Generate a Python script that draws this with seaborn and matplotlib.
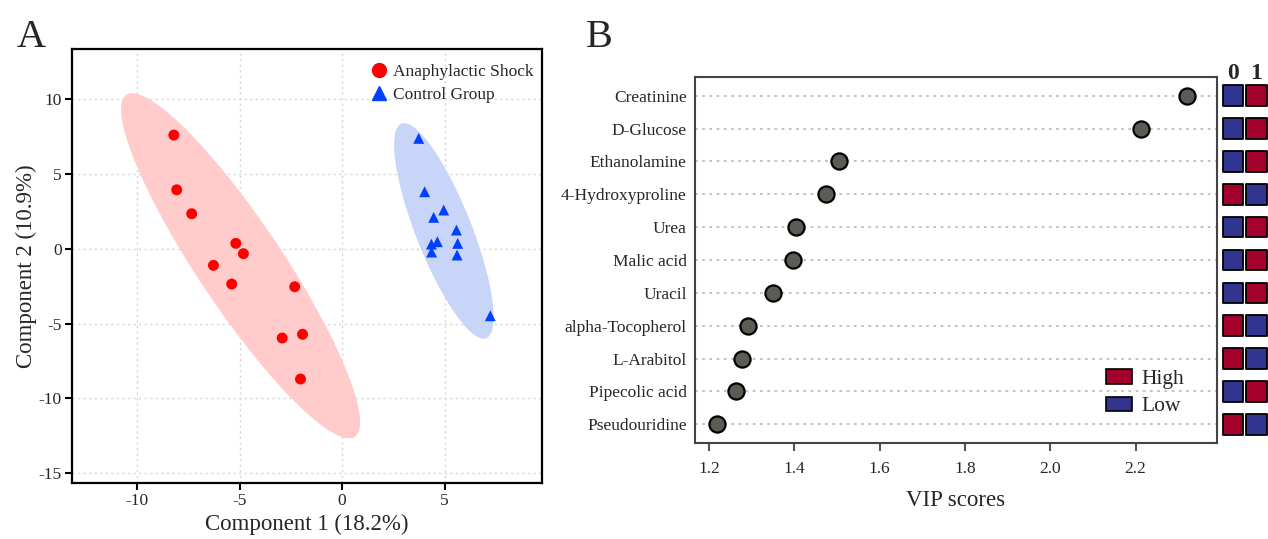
import numpy as np
import pandas as pd
import matplotlib
matplotlib.use("Agg")
import matplotlib.pyplot as plt
import seaborn as sns
from matplotlib.patches import Ellipse, Patch
from matplotlib.lines import Line2D

# ---------------- Panel A data (PLS-DA scores) ----------------
group_names = ["Anaphylactic Shock", "Control Group"]
shock_x = [-8.20, -8.06, -7.33, -5.18, -4.81, -6.27, -5.38, -2.31, -2.92, -1.93, -2.03]
shock_y = [7.60, 3.94, 2.34, 0.36, -0.33, -1.11, -2.36, -2.54, -5.97, -5.72, -8.71]
ctrl_x = [3.73, 4.02, 4.95, 4.46, 5.57, 4.64, 4.35, 5.63, 4.36, 5.60, 7.22]
ctrl_y = [7.38, 3.81, 2.59, 2.10, 1.25, 0.47, 0.31, 0.36, -0.22, -0.42, -4.48]
x_ticks_A = [-10, -5, 0, 5]
y_ticks_A = [-15, -10, -5, 0, 5, 10]
x_label_A = "Component 1 (18.2%)"
y_label_A = "Component 2 (10.9%)"

# ---------------- Panel B data (VIP scores) ----------------
metabolites = ["Creatinine", "D-Glucose", "Ethanolamine", "4-Hydroxyproline", "Urea",
               "Malic acid", "Uracil", "alpha-Tocopherol", "L-Arabitol",
               "Pipecolic acid", "Pseudouridine"]
vip_scores = [2.320, 2.212, 1.504, 1.473, 1.403, 1.396, 1.350, 1.292, 1.277, 1.262, 1.218]
level_col0 = ["Low", "Low", "Low", "High", "Low", "Low", "Low", "High", "High", "Low", "High"]
level_col1 = ["High", "High", "High", "Low", "High", "High", "High", "Low", "Low", "High", "Low"]
heat_cols = ["0", "1"]
x_ticks_B = [1.2, 1.4, 1.6, 1.8, 2.0, 2.2]
x_label_B = "VIP scores"
level_names = ["High", "Low"]

# ---------------- style ----------------
sns.set_style("white")
plt.rcParams["font.family"] = ["Liberation Serif", "DejaVu Serif"]
plt.rcParams["axes.unicode_minus"] = False

shock_color = "#FF0000"
ctrl_color = "#0040FF"
shock_fill = "#FFCBCB"
ctrl_fill = "#C9D5F8"
high_color = "#A3002B"
low_color = "#32358F"

fig = plt.figure(figsize=(12.68, 5.39), dpi=100)

# ================= Panel A =================
axA = fig.add_axes([0.0565, 0.1039, 0.4273 - 0.0565, 0.909 - 0.1039])

dfA = pd.DataFrame({
    "x": shock_x + ctrl_x,
    "y": shock_y + ctrl_y,
    "group": [group_names[0]] * len(shock_x) + [group_names[1]] * len(ctrl_x),
})


def conf_ellipse(xs, ys, color):
    xs = np.asarray(xs)
    ys = np.asarray(ys)
    cov = np.cov(xs, ys)
    vals, vecs = np.linalg.eigh(cov)
    order = vals.argsort()[::-1]
    vals, vecs = vals[order], vecs[:, order]
    k = np.sqrt(5.991)  # 95% chi-square, 2 dof
    angle = np.degrees(np.arctan2(vecs[1, 0], vecs[0, 0]))
    e = Ellipse((xs.mean(), ys.mean()), 2 * k * np.sqrt(vals[0]), 2 * k * np.sqrt(vals[1]),
                angle=angle, facecolor=color, edgecolor="none", zorder=1)
    axA.add_patch(e)


conf_ellipse(shock_x, shock_y, shock_fill)
conf_ellipse(ctrl_x, ctrl_y, ctrl_fill)

sns.scatterplot(data=dfA, x="x", y="y", hue="group", style="group",
                palette={group_names[0]: shock_color, group_names[1]: ctrl_color},
                markers={group_names[0]: "o", group_names[1]: "^"},
                s=62, linewidth=0, ax=axA, legend=False, zorder=3)

axA.set_xlim(-13.18, 9.73)
axA.set_ylim(-15.66, 13.35)
axA.set_xticks(x_ticks_A)
axA.set_yticks(y_ticks_A)
axA.grid(True, linestyle=(0, (1.5, 2.5)), color="#d4d4d4", linewidth=1.0)
axA.set_axisbelow(True)
for sp in axA.spines.values():
    sp.set_color("black")
    sp.set_linewidth(1.6)
axA.tick_params(axis="both", which="major", direction="out", length=5, width=1.5,
                color="black", labelsize=12.5, pad=2, bottom=True, left=True)
axA.set_xlabel(x_label_A, fontsize=16.5, labelpad=4)
axA.set_ylabel(y_label_A, fontsize=16.5, labelpad=1)

handlesA = [
    Line2D([], [], marker="o", color=shock_color, linestyle="", markersize=10),
    Line2D([], [], marker="^", color=ctrl_color, linestyle="", markersize=10.5),
]
axA.legend(handlesA, group_names, loc="upper right", bbox_to_anchor=(1.004, 0.99),
           frameon=False, fontsize=12.5, handletextpad=0.2, labelspacing=0.42,
           borderaxespad=0.3, handlelength=1.2, borderpad=0.3)

# ================= Panel B =================
axB_left, axB_right = 0.5481, 0.9595
axB_bottom, axB_top = 0.1775, 0.8577
axB = fig.add_axes([axB_left, axB_bottom, axB_right - axB_left, axB_top - axB_bottom])
pos = np.arange(len(metabolites))
dfB = pd.DataFrame({"vip": vip_scores, "pos": pos, "name": metabolites})

for p in pos:
    axB.axhline(p, color="#bdbdbd", linestyle=(0, (1.5, 2.5)), linewidth=1.3, zorder=1)

sns.scatterplot(data=dfB, x="vip", y="pos", color="#5c5c57", edgecolor="black",
                linewidth=1.6, s=135, ax=axB, zorder=3, legend=False)

axB.set_xlim(1.167, 2.390)
axB.set_ylim(len(metabolites) - 1 + 0.58, -0.58)
axB.set_yticks(pos)
axB.set_yticklabels(metabolites)
axB.set_xticks(x_ticks_B)
axB.set_xticklabels([f"{v:.1f}" for v in x_ticks_B])
axB.tick_params(axis="y", length=0, labelsize=12.5, pad=6)
axB.tick_params(axis="x", direction="out", length=6, width=1.5, color="#555555",
                labelsize=12.5, pad=7, bottom=True)
for sp in axB.spines.values():
    sp.set_color("#444444")
    sp.set_linewidth(1.5)
axB.set_xlabel(x_label_B, fontsize=16.5, labelpad=9)
axB.set_ylabel("")

handlesB = [Patch(facecolor=high_color, edgecolor="black", linewidth=1.2),
            Patch(facecolor=low_color, edgecolor="black", linewidth=1.2)]
axB.legend(handlesB, level_names, loc="lower right", bbox_to_anchor=(0.955, 0.05),
           frameon=False, fontsize=15.5, handlelength=1.2, handleheight=0.65,
           handletextpad=0.45, labelspacing=0.35, borderaxespad=0)

# ---------------- side heatmap ----------------
axH = fig.add_axes([0.963, axB_bottom, 1.0 - 0.963, axB_top - axB_bottom])
level_palette = {"High": high_color, "Low": low_color}
for j, levels in enumerate([level_col0, level_col1]):
    dfH = pd.DataFrame({"col": [j] * len(levels), "pos": pos, "level": levels})
    sns.scatterplot(data=dfH, x="col", y="pos", hue="level", palette=level_palette,
                    marker="s", s=220, edgecolor="black", linewidth=1.3,
                    ax=axH, legend=False, zorder=3)
axH.set_xlim(-0.5, 1.5)
axH.set_ylim(len(metabolites) - 1 + 0.58, -0.58)
axH.set_xticks([0, 1])
axH.set_xticklabels(heat_cols, fontsize=17, fontweight="bold")
axH.xaxis.tick_top()
axH.tick_params(axis="x", length=0, pad=-5, top=True, bottom=False)
axH.set_yticks([])
axH.set_xlabel("")
axH.set_ylabel("")
for sp in axH.spines.values():
    sp.set_visible(False)
axH.patch.set_alpha(0)

# ---------------- panel letters ----------------
fig.text(0.0134, 0.913, "A", fontsize=29, va="baseline", ha="left")
fig.text(0.462, 0.913, "B", fontsize=29, va="baseline", ha="left")

fig.savefig("out.png", dpi=100)
